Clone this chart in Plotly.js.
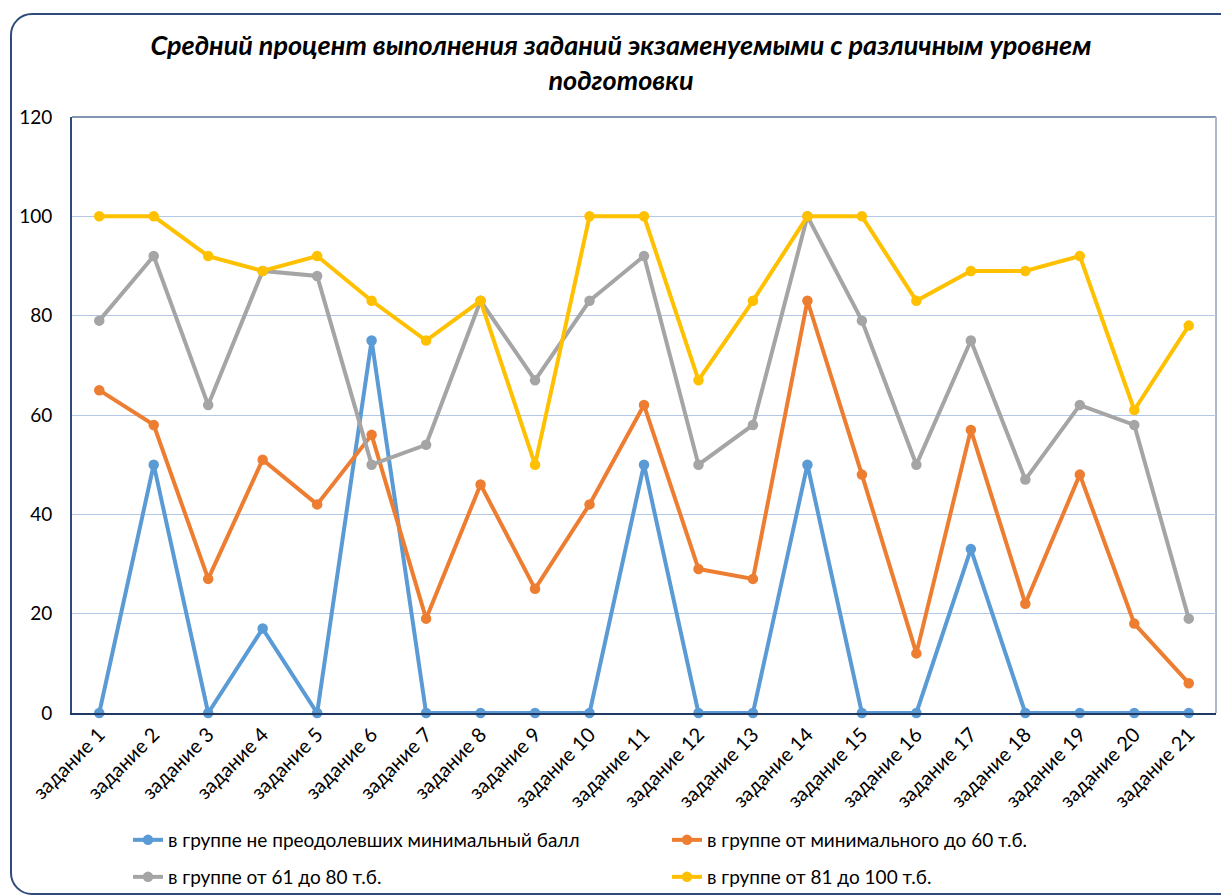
<!DOCTYPE html>
<html>
<head>
<meta charset="utf-8">
<script src="https://cdn.plot.ly/plotly-3.0.1.min.js"></script>
<style>
  html, body { margin: 0; padding: 0; background: #ffffff; }
  #wrap { position: relative; width: 1221px; height: 895px; overflow: hidden; }
  #chart { position: absolute; left: 0; top: 0; width: 1221px; height: 895px; }
  #frame { position: absolute; left: 10px; top: 13px; width: 1240px; height: 878px;
           border: 2px solid #2F4B7C; border-radius: 22px; pointer-events: none; }
</style>
</head>
<body>
<div id="wrap">
  <div id="chart"></div>
  <div id="frame"></div>
</div>
<script>
const categories = ["задание 1","задание 2","задание 3","задание 4","задание 5","задание 6","задание 7",
  "задание 8","задание 9","задание 10","задание 11","задание 12","задание 13","задание 14",
  "задание 15","задание 16","задание 17","задание 18","задание 19","задание 20","задание 21"];

const seriesNames = [
  "в группе не преодолевших минимальный балл",
  "в группе от минимального до 60 т.б.",
  "в группе от 61 до 80 т.б.",
  "в группе от 81 до 100 т.б."
];

const belowMin = [0,50,0,17,0,75,0,0,0,0,50,0,0,50,0,0,33,0,0,0,0];
const minTo60  = [65,58,27,51,42,56,19,46,25,42,62,29,27,83,48,12,57,22,48,18,6];
const from61to80 = [79,92,62,89,88,50,54,83,67,83,92,50,58,100,79,50,75,47,62,58,19];
const from81to100 = [100,100,92,89,92,83,75,83,50,100,100,67,83,100,100,83,89,89,92,61,78];

const yTicks = [0,20,40,60,80,100,120];

const colors = ["#5B9BD5","#ED7D31","#A5A5A5","#FFC000"];
const values = [belowMin, minTo60, from61to80, from81to100];
const legendIds = ["legend","legend2","legend3","legend4"];

const FONT = "Lato, 'Open Sans', sans-serif";

// plot area: x 72..1216, y 117..713
const PW = 1144, PH = 596;
const legendPos = [ [131, 840], [670, 840], [131, 877], [670, 877] ];

const traces = values.map((v, i) => ({
  type: "scatter",
  mode: "lines+markers",
  x: categories,
  y: v,
  name: seriesNames[i],
  legend: legendIds[i],
  line: { color: colors[i], width: 4 },
  marker: { color: colors[i], size: 10.5 },
  cliponaxis: false
}));

const layout = {
  width: 1221,
  height: 895,
  margin: { l: 72, r: 5, t: 117, b: 182, autoexpand: false },
  paper_bgcolor: "#ffffff",
  plot_bgcolor: "#ffffff",
  font: { family: FONT, color: "#000000", size: 19 },
  title: {
    text: "<b><i>Средний процент выполнения заданий экзаменуемыми с различным уровнем<br>подготовки</i></b>",
    font: { family: FONT, size: 27, color: "#000000" },
    x: 621 / 1221,
    xanchor: "center",
    xref: "container",
    y: 1 - 55 / 895,
    yanchor: "middle",
    yref: "container"
  },
  xaxis: {
    type: "category",
    categoryorder: "array",
    categoryarray: categories,
    range: [-0.5, categories.length - 0.5],
    tickangle: -45,
    tickfont: { family: FONT, size: 20, color: "#000000" },
    showgrid: false,
    showline: true,
    linecolor: "#1F3864",
    linewidth: 2,
    ticks: "",
    zeroline: false,
    automargin: false,
    fixedrange: true
  },
  yaxis: {
    range: [0, 120],
    tickvals: yTicks,
    ticktext: yTicks.map(String),
    tickfont: { family: FONT, size: 19, color: "#000000" },
    showgrid: true,
    gridcolor: "#B4C7E7",
    gridwidth: 1,
    showline: true,
    linecolor: "#2F4B7C",
    linewidth: 2,
    ticks: "",
    ticklabelstandoff: 14,
    zeroline: false,
    automargin: false,
    fixedrange: true
  },
  shapes: [
    { type: "line", xref: "paper", yref: "paper", x0: 0, x1: 1, y0: 1, y1: 1,
      line: { color: "#8497B0", width: 2 }, layer: "below" },
    { type: "line", xref: "paper", yref: "paper", x0: 1, x1: 1, y0: 0, y1: 1,
      line: { color: "#ADB9CA", width: 2 }, layer: "below" }
  ],
  showlegend: true
};

legendIds.forEach((id, i) => {
  const [px, py] = legendPos[i];
  layout[id] = {
    orientation: "h",
    x: (px - 72 - 3) / PW, xanchor: "left",
    y: -(py - 713) / PH, yanchor: "middle",
    font: { family: FONT, size: 19, color: "#000000" },
    bgcolor: "rgba(0,0,0,0)",
    borderwidth: 0,
    itemclick: false, itemdoubleclick: false
  };
});

Plotly.newPlot("chart", traces, layout, { displayModeBar: false, staticPlot: true });
</script>
</body>
</html>
